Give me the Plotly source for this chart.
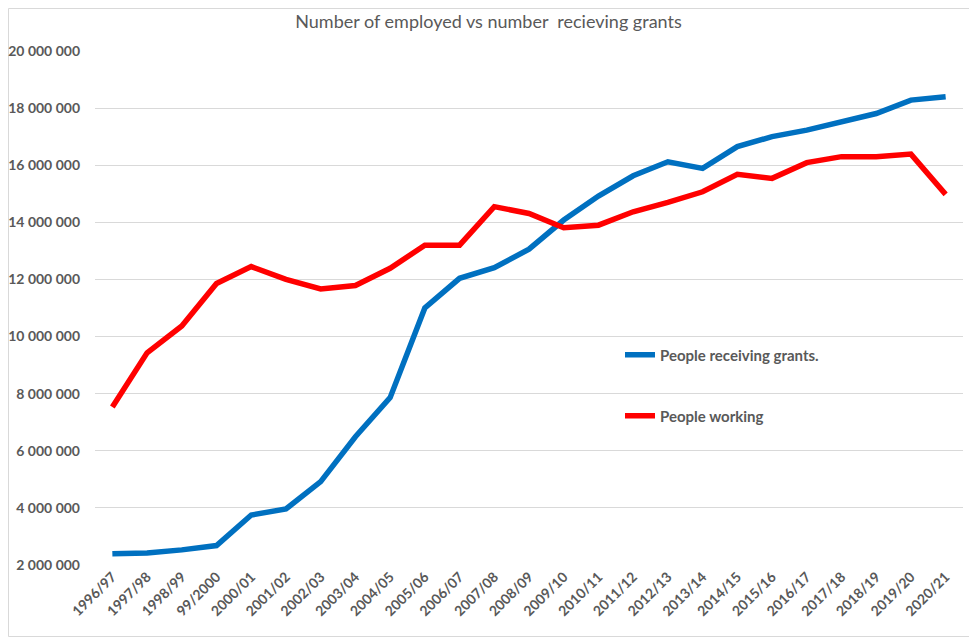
import plotly.graph_objects as go

years = ["1996/97", "1997/98", "1998/99", "99/2000", "2000/01", "2001/02", "2002/03",
         "2003/04", "2004/05", "2005/06", "2006/07", "2007/08", "2008/09", "2009/10",
         "2010/11", "2011/12", "2012/13", "2013/14", "2014/15", "2015/16", "2016/17",
         "2017/18", "2018/19", "2019/20", "2020/21"]

grants = [2390000, 2420000, 2530000, 2680000, 3750000, 3960000, 4920000, 6490000,
          7860000, 11000000, 12040000, 12410000, 13060000, 14080000, 14920000,
          15630000, 16120000, 15890000, 16650000, 17000000, 17230000, 17530000,
          17810000, 18280000, 18400000]

working = [7530000, 9430000, 10370000, 11860000, 12450000, 12000000, 11670000,
           11790000, 12390000, 13200000, 13200000, 14550000, 14310000, 13810000,
           13900000, 14370000, 14700000, 15070000, 15680000, 15540000, 16090000,
           16300000, 16300000, 16390000, 14980000]

ytick_vals = [2000000, 4000000, 6000000, 8000000, 10000000, 12000000, 14000000,
              16000000, 18000000, 20000000]

GREY = "#595959"
FONT = "Lato"

fig = go.Figure()
fig.add_trace(go.Scatter(x=years, y=grants, mode="lines", name="People receiving grants.",
                         line=dict(color="#0070C0", width=5.5), legend="legend"))
fig.add_trace(go.Scatter(x=years, y=working, mode="lines", name="People working",
                         line=dict(color="#FF0000", width=5.5), legend="legend2"))

OFF = 8  # page body margin
WIN_W, WIN_H = 977, 638
W, H = WIN_W - OFF, WIN_H - OFF
ML, MT = 95 - OFF, 51 - OFF
MR, MB = WIN_W - 963, WIN_H - 565
pw, ph = W - ML - MR, H - MT - MB

def px_x(wx):
    return (wx - OFF - ML) / pw

def px_y(wy):
    return 1 - (wy - OFF - MT) / ph

fig.update_layout(
    width=W, height=H,
    margin=dict(l=ML, r=MR, t=MT, b=MB, autoexpand=False),
    paper_bgcolor="white", plot_bgcolor="white",
    separators=". ",
    font=dict(family=FONT, color=GREY, size=13),
    title=dict(text="Number of employed vs number  recieving grants", x=0.5 + (W / 2 - (WIN_W / 2 - OFF)) / W * 0 + ((WIN_W / 2 - OFF) / W - 0.5),
               xanchor="center", xref="container", yref="container",
               y=1 - (22 - OFF) / H, yanchor="middle",
               font=dict(family=FONT, size=18, color=GREY)),
    showlegend=True,
    legend=dict(x=px_x(620), y=px_y(355), xanchor="left", yanchor="middle",
                bgcolor="rgba(0,0,0,0)", font=dict(family=FONT, size=15, color=GREY, weight="bold")),
    legend2=dict(x=px_x(620), y=px_y(416), xanchor="left", yanchor="middle",
                 bgcolor="rgba(0,0,0,0)", font=dict(family=FONT, size=15, color=GREY, weight="bold")),
    xaxis=dict(type="category", range=[-0.5, len(years) - 0.5], tickangle=-45,
               showgrid=False, showline=False, ticks="", automargin=False,
               tickfont=dict(family=FONT, size=14, color=GREY, weight="bold")),
    yaxis=dict(range=[2000000, 20000000], tickvals=ytick_vals, tickformat=",d",
               showgrid=True, gridcolor="#d9d9d9", gridwidth=1, zeroline=False,
               showline=False, ticks="", automargin=False, ticklabelstandoff=14,
               tickfont=dict(family=FONT, size=14, color=GREY, weight="bold")),
    shapes=[dict(type="rect", xref="paper", yref="paper",
                 x0=px_x(OFF + 0.5), x1=px_x(WIN_W - 1.5),
                 y0=px_y(WIN_H - 1.5), y1=px_y(OFF + 0.5),
                 line=dict(color="#d9d9d9", width=1), layer="below")],
)

fig.write_html("out.html")
